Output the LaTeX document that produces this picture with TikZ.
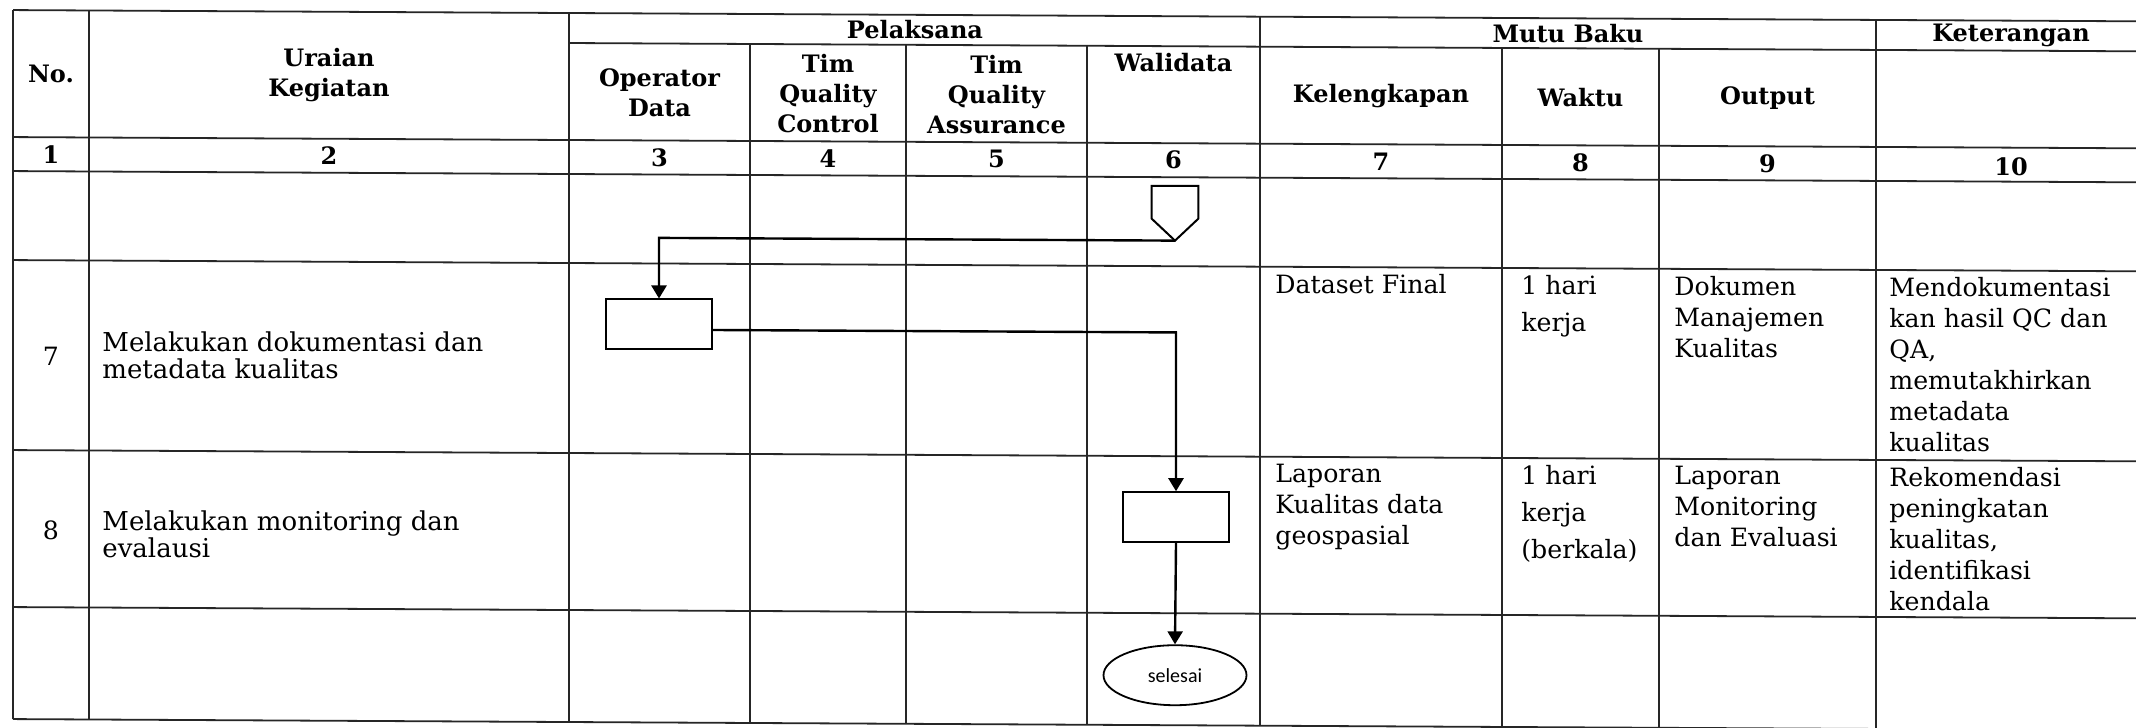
\documentclass[tikz,border=0pt]{standalone}
\usepackage{fontspec}
\setmainfont{DejaVu Serif}
\newfontfamily\carlito{Carlito}
\usetikzlibrary{arrows.meta,shapes.geometric}
\begin{document}
\begin{tikzpicture}[x=0.5pt,y=-0.5pt,
  grid/.style={line width=0.9pt, draw=black!85},
  hdr/.style={font=\bfseries\fontsize{12}{15}\selectfont, align=center, inner sep=0pt},
  body/.style={font=\fontsize{12.6}{15.5}\selectfont, align=left, inner sep=0pt, anchor=north west},
  bodyw/.style={font=\fontsize{12.6}{18.5}\selectfont, align=left, inner sep=0pt, anchor=north west},
  uraian/.style={font=\fontsize{13}{13.5}\selectfont, align=left, inner sep=0pt, anchor=west},
  procbox/.style={draw, line width=1pt, minimum width=53pt, minimum height=25pt, inner sep=0pt},
  flow/.style={line width=1.2pt, -{Triangle[length=6.5pt,width=7.5pt]}},
  offpage/.style={minimum width=23pt, minimum height=27pt, inner sep=0pt},
  terminal/.style={ellipse, draw, line width=0.9pt, minimum width=71.5pt, minimum height=30pt, inner sep=0pt, font=\carlito\fontsize{10}{12}\selectfont}
]
\fill[white] (0,0) rectangle (2136,728);
\useasboundingbox (0,0) rectangle (2136,728);
\clip (0,0) rectangle (2136,728);
\begin{scope}[cm={1,-0.0053,0,1,(0,0)}]
% ---- grid ----
\draw[grid] (13,10) -- (2146,10);
\draw[grid] (569,40) -- (2146,40);
\foreach \y in {137,171,260,450,607,719} \draw[grid] (13,\y) -- (2146,\y);
\foreach \x in {13,89,569,1260,1876,2146} \draw[grid] (\x,10) -- (\x,719);
\foreach \x in {750,906,1087,1502,1659} \draw[grid] (\x,40) -- (\x,719);
% ---- header ----
\node[hdr] (hno) at (51,73.5) {No.};
\node[hdr] (hura) at (329,73.5) {Uraian\\Kegiatan};
\node[hdr] (hpel) at (915,25) {Pelaksana};
\node[hdr] (hop) at (659.5,89) {Operator\\Data};
\node[hdr] (hqc) at (828,89) {Tim\\Quality\\Control};
\node[hdr] (hqa) at (996.5,89) {Tim\\Quality\\Assurance};
\node[hdr, anchor=north] (hwal) at (1173.5,47) {Walidata};
\node[hdr] (hmutu) at (1568,25) {Mutu Baku};
\node[hdr] (hket) at (2011,25) {Keterangan};
\node[hdr] (hkel) at (1381,89) {Kelengkapan};
\node[hdr] (hwak) at (1580.5,89) {Waktu};
\node[hdr] (hout) at (1767.5,89) {Output};
% ---- column numbers ----
\node[hdr] (n1) at (51,154) {1};
\node[hdr] (n2) at (329,154) {2};
\node[hdr] (n3) at (659.5,154) {3};
\node[hdr] (n4) at (828,154) {4};
\node[hdr] (n5) at (996.5,154) {5};
\node[hdr] (n6) at (1173.5,154) {6};
\node[hdr] (n7) at (1381,154) {7};
\node[hdr] (n8) at (1580.5,154) {8};
\node[hdr] (n9) at (1767.5,154) {9};
\node[hdr] (n10) at (2011,156) {10};
% ---- row 7 ----
\node[font=\fontsize{12.6}{15}\selectfont, inner sep=0pt] (r7no) at (51,356) {7};
\node[uraian] (r7ur) at (102,355) {Melakukan dokumentasi dan\\metadata kualitas};
\node[body] (r7kel) at (1275,267) {Dataset Final};
\node[bodyw] (r7wak) at (1521,267) {1 hari\\kerja};
\node[body] (r7out) at (1674,267) {Dokumen\\Manajemen\\Kualitas};
\node[body] (r7ket) at (1889,267) {Mendokumentasi\\kan hasil QC dan\\QA,\\memutakhirkan\\metadata\\kualitas};
% ---- row 8 ----
\node[font=\fontsize{12.6}{15}\selectfont, inner sep=0pt] (r8no) at (51,530) {8};
\node[uraian] (r8ur) at (102,534) {Melakukan monitoring dan\\evalausi};
\node[body] (r8kel) at (1275,457) {Laporan\\Kualitas data\\geospasial};
\node[bodyw] (r8wak) at (1521,457) {1 hari\\kerja\\(berkala)};
\node[body] (r8out) at (1674,457) {Laporan\\Monitoring\\dan Evaluasi};
\node[body] (r8ket) at (1889,457) {Rekomendasi\\peningkatan\\kualitas,\\identifikasi\\kendala};
% ---- flow ----
\node[offpage] (opc) at (1175,207) {};
\draw[line width=1pt] (opc.north west) -- (opc.north east) -- ([yshift=11pt]opc.south east)
  -- (opc.south) -- ([yshift=11pt]opc.south west) -- cycle;
\node[procbox] (box7) at (659,321) {};
\node[procbox] (box8) at (1176,511) {};
\node[terminal] (fin) at (1175,669) {selesai};
\draw[flow] (opc.south) -| (box7.north);
\draw[flow] ([yshift=-2.75pt]box7.east) -| (box8.north);
\draw[flow] (box8.south) -- (fin.north);
\end{scope}
\end{tikzpicture}
\end{document}
